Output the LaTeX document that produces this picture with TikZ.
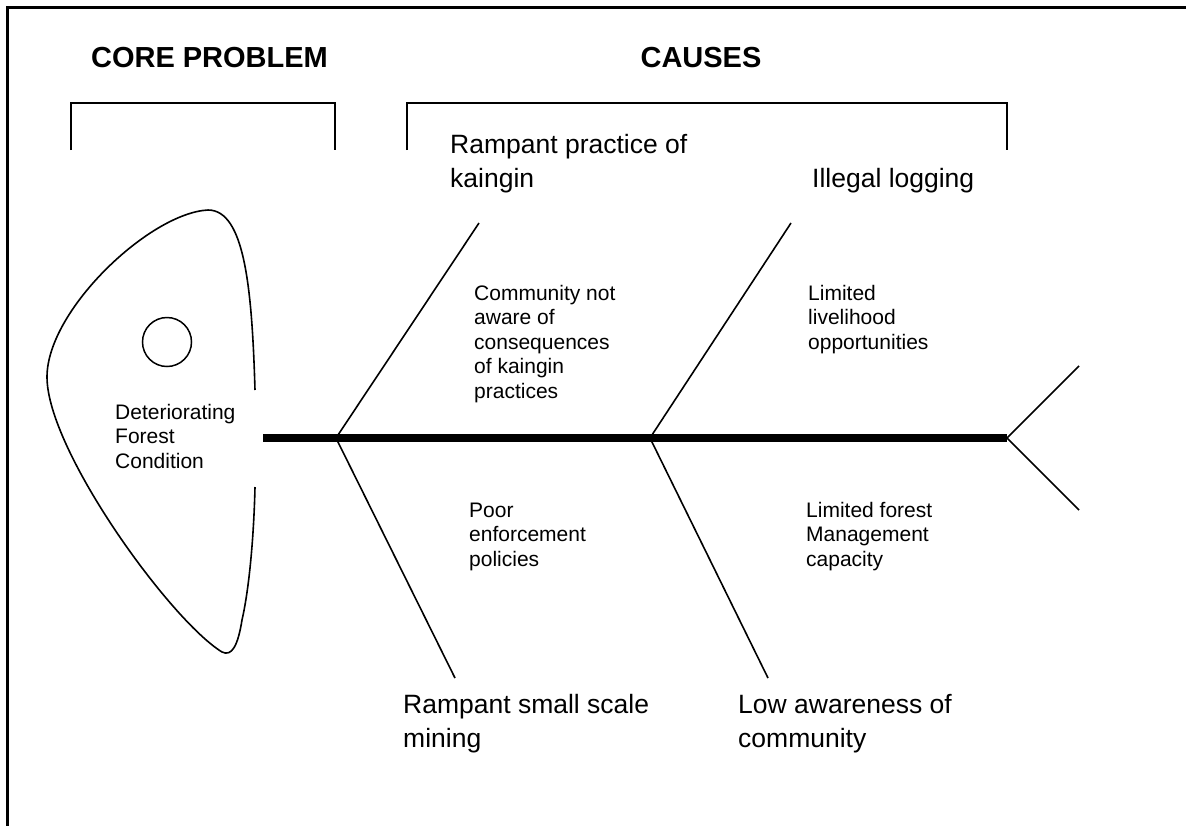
\documentclass[tikz,border=0pt]{standalone}
\usepackage{fontspec}
\setmainfont{Liberation Sans}
\begin{document}
\begin{tikzpicture}[x=1pt,y=-1pt,
  frameline/.style={line width=3pt},
  bracketline/.style={line width=2pt},
  boneline/.style={line width=1.6pt},
  spineline/.style={line width=8pt},
  headline/.style={line width=1.6pt},
  titletext/.style={inner sep=0pt,font=\fontsize{29}{33}\selectfont\bfseries},
  bigtext/.style={inner sep=0pt,anchor=base west,align=left,font=\fontsize{26.5}{34}\selectfont},
  smalltext/.style={inner sep=0pt,anchor=base west,align=left,font=\fontsize{21}{24.5}\selectfont}]
\useasboundingbox (0,0) rectangle (1186,825);
% frame
\draw[frameline] (7.5,830) -- (7.5,7.5) -- (1186,7.5);
% titles
\node[titletext] (core) at (209.5,58) {CORE PROBLEM};
\node[titletext] (causes) at (701,58) {CAUSES};
% brackets
\draw[bracketline] (71,150) -- (71,103) -- (335,103) -- (335,150);
\draw[bracketline] (407,150) -- (407,103) -- (1007,103) -- (1007,150);
% fish head
\draw[headline] (255,390) .. controls (252,290) and (245,210) .. (208,210)
  .. controls (150,213) and (47,310) .. (47,377)
  .. controls (47,450) and (170,620) .. (222,652)
  .. controls (232,657) and (238,645) .. (242,620)
  .. controls (250,585) and (254,530) .. (255,487);
\node[draw,circle,line width=1.5pt,minimum size=49pt,inner sep=0pt] (eye) at (167,342) {};
\node[smalltext] (core text) at (115,468) {Deteriorating\\Forest\\Condition};
% spine and tail
\coordinate (spineL) at (263,438);
\coordinate (j1) at (336,438);
\coordinate (j2) at (650,438);
\coordinate (spineR) at (1007,438);
\coordinate (tailU) at (1079,366);
\coordinate (tailD) at (1079,510);
\draw[spineline] (spineL) -- (spineR);
\draw[boneline] (tailU) -- (spineR) -- (tailD);
% bones
\coordinate (b1) at (479,223);
\coordinate (b2) at (791,223);
\coordinate (b3) at (455,678);
\coordinate (b4) at (768,678);
\draw[boneline] (j1) -- (b1);
\draw[boneline] (j1) -- (b3);
\draw[boneline] (j2) -- (b2);
\draw[boneline] (j2) -- (b4);
% cause labels
\node[bigtext] (kaingin) at (450,187) {Rampant practice of\\kaingin};
\node[bigtext] (logging) at (812,187) {Illegal logging};
\node[bigtext] (mining) at (403,747) {Rampant small scale\\mining};
\node[bigtext] (awareness) at (738,747) {Low awareness of\\community};
% sub causes
\node[smalltext] (community) at (474,398) {Community not\\aware of\\consequences\\of kaingin\\practices};
\node[smalltext] (livelihood) at (808,349) {Limited\\livelihood\\opportunities};
\node[smalltext] (enforcement) at (469,566) {Poor\\enforcement\\policies};
\node[smalltext] (management) at (806,566) {Limited forest\\Management\\capacity};
\end{tikzpicture}
\end{document}
